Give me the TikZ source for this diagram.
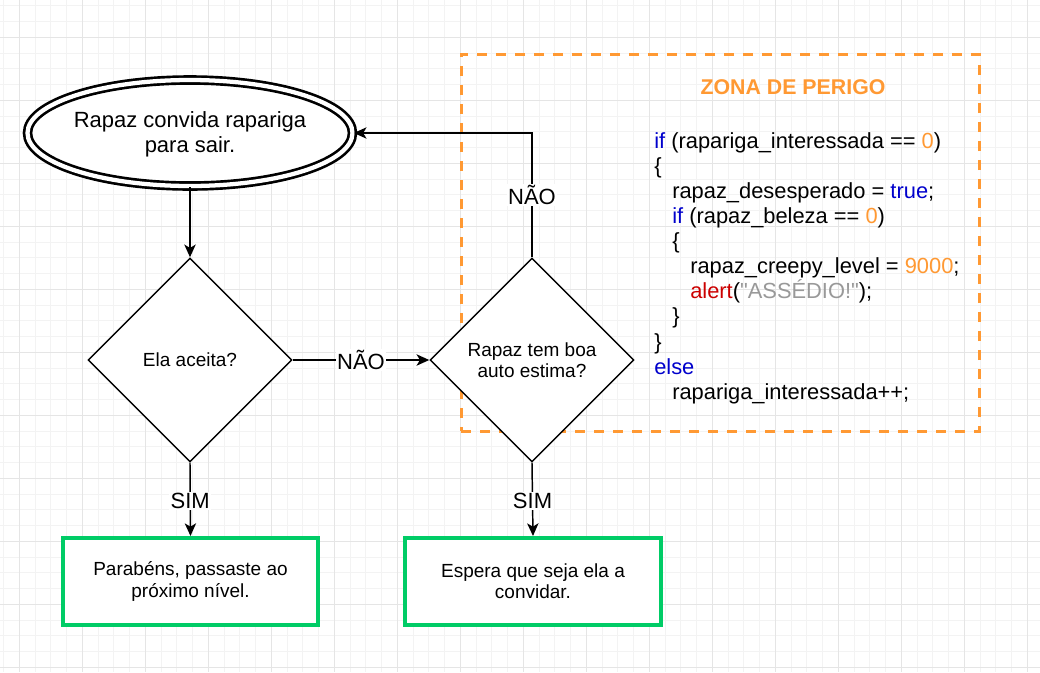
\documentclass[tikz,border=0pt]{standalone}
\usepackage{fontspec}
\setmainfont{Liberation Sans}
\usetikzlibrary{arrows.meta,shapes.geometric}
\newcommand\sq{\XeTeXglyph\XeTeXcharglyph"22\relax}
\definecolor{gminor}{RGB}{243,243,243}
\definecolor{gmajor}{RGB}{229,229,229}
\definecolor{zgreen}{RGB}{0,204,102}
\definecolor{zorange}{RGB}{255,153,51}
\definecolor{cblue}{RGB}{0,0,204}
\definecolor{cred}{RGB}{204,0,0}
\definecolor{cgray}{RGB}{153,153,153}
\tikzset{
  ellbox/.style={ellipse, draw=black, line width=2pt, double=white, double distance=3.2pt, fill=white, inner sep=0pt, minimum width=243.75pt, minimum height=79.5pt},
  decision/.style={diamond, aspect=1, draw=black, line width=1.1pt, fill=white, inner sep=0pt, minimum width=153pt, minimum height=153pt, align=center, font=\fontsize{14.25pt}{16pt}\selectfont},
  endbox/.style={rectangle, draw=zgreen, line width=3pt, fill=white, inner sep=0pt, minimum width=191.5pt, minimum height=65.25pt, align=center, font=\fontsize{14.25pt}{16pt}\selectfont},
  zonebox/.style={rectangle, draw=zorange, line width=2.25pt, dash pattern=on 7.5pt off 6.75pt, inner sep=0pt, minimum width=388.5pt, minimum height=282.75pt},
  arr/.style={draw=black, line width=1.1pt, -{Stealth[length=9.5pt,width=8.5pt,inset=2.5pt]}},
  lbl/.style={fill=white, inner sep=1pt, font=\fontsize{16.5pt}{18pt}\selectfont},
  codeline/.style={anchor=base west, inner sep=0pt, font=\fontsize{16.4pt}{19pt}\selectfont},
}
\begin{document}
\begin{tikzpicture}[x=0.75pt,y=-0.75pt]
\useasboundingbox (0,0) rectangle (1040,672);
\fill[white] (0,0) rectangle (1040,672);
% grid
\foreach \k in {0,...,65} \draw[gminor, line width=0.75pt] ({3.55+15.75*\k},0) -- ({3.55+15.75*\k},672);
\foreach \k in {0,...,42} \draw[gminor, line width=0.75pt] (0,{5.8+15.75*\k}) -- (1040,{5.8+15.75*\k});
\foreach \k in {0,...,16} \draw[gmajor, line width=0.75pt] ({19.3+63*\k},0) -- ({19.3+63*\k},672);
\foreach \k in {0,...,10} \draw[gmajor, line width=0.75pt] (0,{37.3+63*\k}) -- (1040,{37.3+63*\k});

% danger zone
\node[zonebox] (zone) at (720,242.5) {};
\node[anchor=base, inner sep=0pt, text=zorange, font=\fontsize{16pt}{18pt}\selectfont\bfseries] (zonetitle) at (793,94.3) {ZONA DE PERIGO};
\node[codeline] (c1) at (654,148) {{\color{cblue}if} (rapariga\_interessada == {\color{zorange}0})};
\node[codeline] (c2) at (654,173.1) {\{};
\node[codeline] (c3) at (672,198.3) {rapaz\_desesperado = {\color{cblue}true};};
\node[codeline] (c4) at (672,223.4) {{\color{cblue}if} (rapaz\_beleza == {\color{zorange}0})};
\node[codeline] (c5) at (672,248.5) {\{};
\node[codeline] (c6) at (690,273.7) {rapaz\_creepy\_level = {\color{zorange}9000};};
\node[codeline] (c7) at (690,298.8) {{\color{cred}alert}({\color{cgray}\sq ASSÉDIO!\sq});};
\node[codeline] (c8) at (672,323.9) {\}};
\node[codeline] (c9) at (654,349) {\}};
\node[codeline] (c10) at (654,374.2) {{\color{cblue}else}};
\node[codeline] (c11) at (672,399.3) {rapariga\_interessada++;};

% shapes
\node[ellbox] (start) at (190,133) {};
\node[align=center, inner sep=0pt, font=\fontsize{16.5pt}{18.75pt}\selectfont] (starttxt) at (190,134.5) {Rapaz convida rapariga\\para sair.};
\node[decision] (d1) at (190,360) {Ela aceita?};
\node[decision] (d2) at (532,360) {Rapaz tem boa\\auto estima?};
\node[endbox] (b1) at (190.5,581.5) {Parabéns, passaste ao\\próximo nível.};
\node[endbox] (b2) at (533,581.5) {Espera que seja ela a\\convidar.};

% connectors
\draw[arr] (start.south) -- (d1.north);
\draw[arr] (d1.east) -- node[lbl] {NÃO} (d2.west);
\draw[arr] (d2.north) |- node[lbl, pos=0.25] {NÃO} (start.east);
\draw[arr] (d1.south) -- node[lbl, pos=0.52] {SIM} (b1.north);
\draw[arr] (d2.south) -- node[lbl, pos=0.52] {SIM} (b2.north);
\end{tikzpicture}
\end{document}
